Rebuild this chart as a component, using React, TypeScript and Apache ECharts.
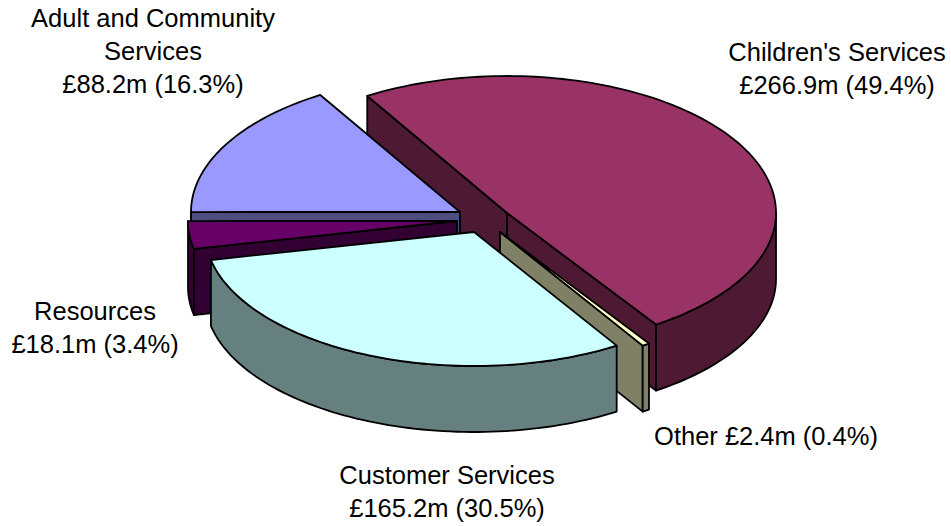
import React, { useEffect, useRef } from "react";
import * as echarts from "echarts";

// Net budget by service, in clockwise order from the Children's Services slice.
const services = [
  "Children's Services",
  "Other",
  "Customer Services",
  "Resources",
  "Adult and Community Services",
];
const budgets = [266.9, 2.4, 165.2, 18.1, 88.2];
const labelTexts = [
  "Children's Services\n£266.9m (49.4%)",
  "Other £2.4m (0.4%)",
  "Customer Services\n£165.2m (30.5%)",
  "Resources\n£18.1m (3.4%)",
  "Adult and Community\nServices\n£88.2m (16.3%)",
];
const topColours = ["#993366", "#FFFFCC", "#CCFFFF", "#660066", "#9999FF"];
const wallColours = ["#4D1933", "#808066", "#668080", "#330033", "#4D4D80"];

// Layout of the tilted, exploded pie. The far half of the ellipse is drawn
// slightly deeper than the near half, as the perspective view does.
const RX = 269;
const RY_FAR = 137;
const RY_NEAR = 134;
const DEPTH = 66;
const START_ANGLE = 121.3;
const apexes = [
  [507, 213],
  [500, 232],
  [474, 232],
  [457, 221],
  [460, 212],
];
const paintRank = [0, 3, 4, 2, 1];
const labelAnchors = [
  [837, 68],
  [766, 436],
  [447, 491],
  [95, 327],
  [153, 51],
];

const total = budgets.reduce((a, b) => a + b, 0);
const rad = (d: number) => (d * Math.PI) / 180;

function rimPoint(apex: number[], deg: number, drop = 0) {
  const s = Math.sin(rad(deg));
  return [
    apex[0] + RX * Math.cos(rad(deg)),
    apex[1] - (s > 0 ? RY_FAR : RY_NEAR) * s + drop,
  ];
}

// Samples the outer arc going clockwise from angle a to angle b.
function arc(apex: number[], a: number, b: number, drop = 0) {
  const steps = Math.max(2, Math.ceil((a - b) / 1.5));
  const pts: number[][] = [];
  for (let i = 0; i <= steps; i++) {
    pts.push(rimPoint(apex, a + ((b - a) * i) / steps, drop));
  }
  return pts;
}

function renderSlice(params: any, api: any) {
  const i = params.dataIndex;
  let from = START_ANGLE;
  for (let k = 0; k < i; k++) from -= (budgets[k] / total) * 360;
  const to = from - (api.value(0) / total) * 360;
  const apex = apexes[i];
  const base = paintRank[i] * 10;
  const edge = { stroke: "#000", lineWidth: 1.8, lineJoin: "round" as const };
  const children: any[] = [];

  const wall = (points: number[][], z2: number) =>
    children.push({
      type: "polygon",
      z2,
      shape: { points },
      style: { fill: wallColours[i], ...edge },
    });

  // A radial cut face shows only when the slice's top lies above it on screen
  const cutFace = (deg: number) => {
    const p = rimPoint(apex, deg);
    wall(
      [apex, p, [p[0], p[1] + DEPTH], [apex[0], apex[1] + DEPTH]],
      base + 1
    );
  };
  if (Math.cos(rad(from)) < 0) cutFace(from);
  if (Math.cos(rad(to)) > 0) cutFace(to);

  // Front part of the rim: only angles below the horizontal face the viewer
  const rimFrom = Math.min(from, 0);
  const rimTo = Math.max(to, -180);
  if (rimFrom > rimTo) {
    const upper = arc(apex, rimFrom, rimTo);
    const lower = arc(apex, rimFrom, rimTo, DEPTH).reverse();
    wall([...upper, ...lower], base + 2);
  }

  // Top face
  children.push({
    type: "polygon",
    z2: base + 3,
    shape: { points: [apex, ...arc(apex, from, to)] },
    style: { fill: topColours[i], ...edge },
  });

  return { type: "group", children };
}

export default function App() {
  const ref = useRef<HTMLDivElement>(null);

  useEffect(() => {
    const chart = echarts.init(ref.current!, undefined, { renderer: "svg" });
    chart.setOption({
      animation: false,
      backgroundColor: "#fff",
      series: [
        {
          type: "custom",
          coordinateSystem: "none",
          name: "Budget",
          data: services.map((name, i) => ({ name, value: [budgets[i]] })),
          renderItem: renderSlice,
          silent: true,
        },
      ],
      graphic: labelTexts.map((text, i) => ({
        type: "text",
        x: labelAnchors[i][0],
        y: labelAnchors[i][1],
        z: 10,
        style: {
          text,
          fill: "#000",
          font: '25.5px "Liberation Sans", Arial, sans-serif',
          lineHeight: 33,
          align: "center",
          verticalAlign: "middle",
        },
      })),
    });
    return () => chart.dispose();
  }, []);

  return (
    <div
      ref={ref}
      style={{ position: "absolute", left: 0, top: 0, width: 951, height: 526 }}
    />
  );
}
